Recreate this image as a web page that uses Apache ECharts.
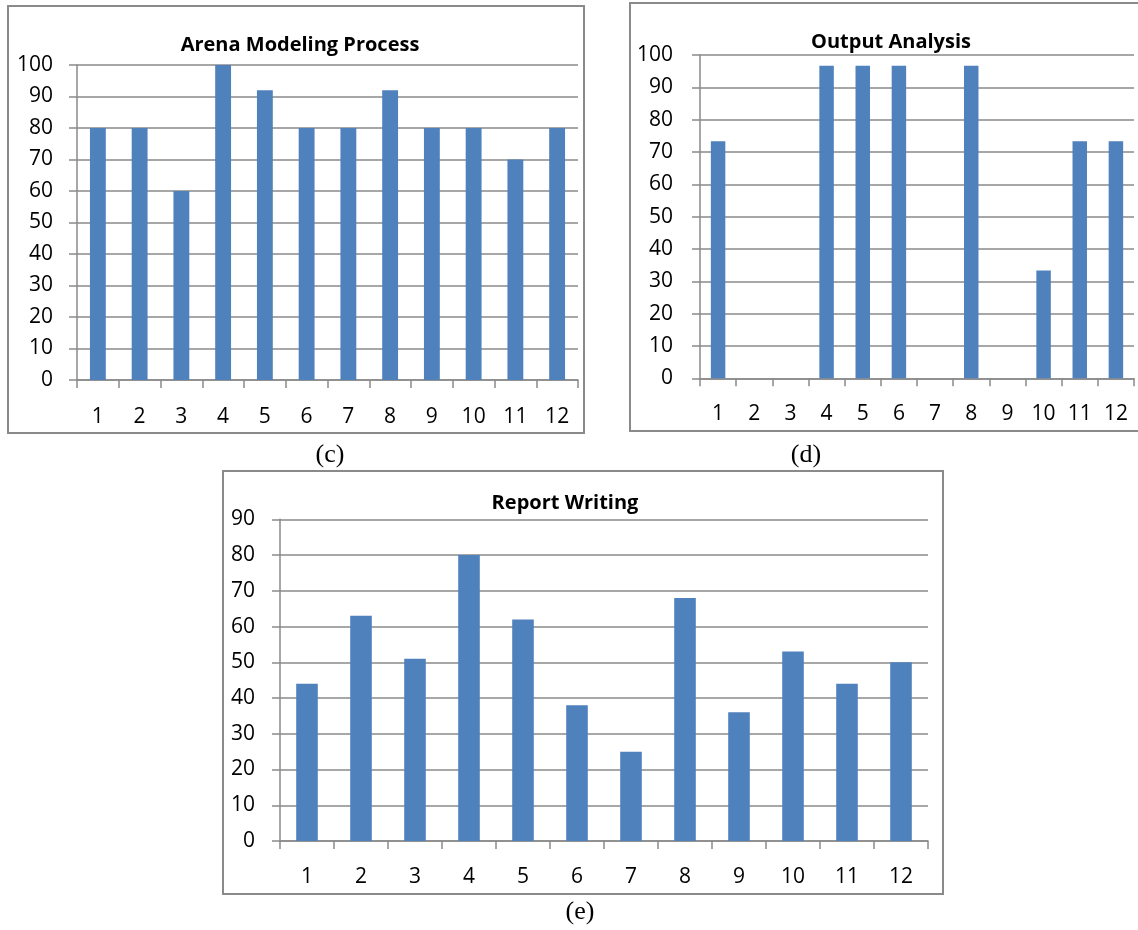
<!DOCTYPE html>
<html>
<head>
<meta charset="utf-8">
<script src="https://cdn.jsdelivr.net/npm/echarts@6/dist/echarts.min.js"></script>
<style>
html,body{margin:0;padding:0;background:#fff;}
#chart{width:1138px;height:930px;}
</style>
</head>
<body>
<div id="chart"></div>
<script>
const categories = ['1','2','3','4','5','6','7','8','9','10','11','12'];
const arenaValues = [80, 80, 60, 100, 92, 80, 80, 92, 80, 80, 70, 80];
const outputValues = [73.33, 0, 0, 96.67, 96.67, 96.67, 0, 96.67, 0, 33.33, 73.33, 73.33];
const reportValues = [44, 63, 51, 80, 62, 38, 25, 68, 36, 53, 44, 50];
const titles = ['Arena Modeling Process', 'Output Analysis', 'Report Writing'];
const captions = ['(c)', '(d)', '(e)'];

const FONT = '"Open Sans", "Liberation Sans", sans-serif';
const GRID_COLOR = '#8a8a8a';
const BAR_COLOR = '#4f81bd';

const grids = [
  {left: 77, top: 65, width: 501, height: 315},
  {left: 700, top: 55, width: 434, height: 323.3},
  {left: 280, top: 519.3, width: 648, height: 321.7}
];
const yMax = [100, 100, 90];
const barW = ['38%', '40%', '40%'];
const yLabelMargin = [24, 27, 25];
const xLabelMargin = [27, 25, 26];
const titlePos = [[295, 30], [886, 27], [560, 488]];
const captionPos = [[330, 455], [806, 455], [580, 912]];
const boxes = [[8, 6, 576, 427], [630, 3, 512, 428], [223, 471, 720, 423]];
const seriesData = [arenaValues, outputValues, reportValues];

const option = {
  animation: false,
  backgroundColor: '#fff',
  title: titles.map((t, i) => ({
    text: t, left: titlePos[i][0], top: titlePos[i][1], textAlign: 'center',
    textStyle: {fontFamily: FONT, fontWeight: 'bold', fontSize: 20, color: '#000'}
  })),
  grid: grids.map(g => Object.assign({containLabel: false}, g)),
  xAxis: grids.map((g, i) => ({
    type: 'category', gridIndex: i, data: categories, boundaryGap: true,
    axisLine: {show: true, lineStyle: {color: GRID_COLOR, width: 1.5}},
    axisTick: {show: true, alignWithLabel: false, length: 8, lineStyle: {color: GRID_COLOR, width: 1.5}},
    axisLabel: {fontFamily: FONT, fontSize: 21, color: '#000', margin: xLabelMargin[i], interval: 0},
    splitLine: {show: false}
  })),
  yAxis: grids.map((g, i) => ({
    type: 'value', gridIndex: i, min: 0, max: yMax[i], interval: 10,
    axisLine: {show: true, lineStyle: {color: GRID_COLOR, width: 1.5}},
    axisTick: {show: true, length: 8, lineStyle: {color: GRID_COLOR, width: 1.5}},
    axisLabel: {fontFamily: FONT, fontSize: 21, color: '#000', margin: yLabelMargin[i]},
    splitLine: {show: true, lineStyle: {color: GRID_COLOR, width: 1.5}}
  })),
  series: seriesData.map((d, i) => ({
    type: 'bar', xAxisIndex: i, yAxisIndex: i, data: d, barWidth: barW[i],
    itemStyle: {color: BAR_COLOR, borderWidth: 0},
    silent: true
  })),
  graphic: [
    ...boxes.map(b => ({
      type: 'rect', shape: {x: b[0], y: b[1], width: b[2], height: b[3]},
      style: {fill: 'none', stroke: GRID_COLOR, lineWidth: 2}, z: 100
    })),
    ...captions.map((c, i) => ({
      type: 'text', x: captionPos[i][0], y: captionPos[i][1],
      style: {text: c, font: '26px "Liberation Serif", "Times New Roman", serif', fill: '#000', align: 'center', verticalAlign: 'middle'},
      z: 100
    }))
  ]
};

const chart = echarts.init(document.getElementById('chart'), null, {renderer: 'canvas'});
chart.setOption(option);
</script>
</body>
</html>
